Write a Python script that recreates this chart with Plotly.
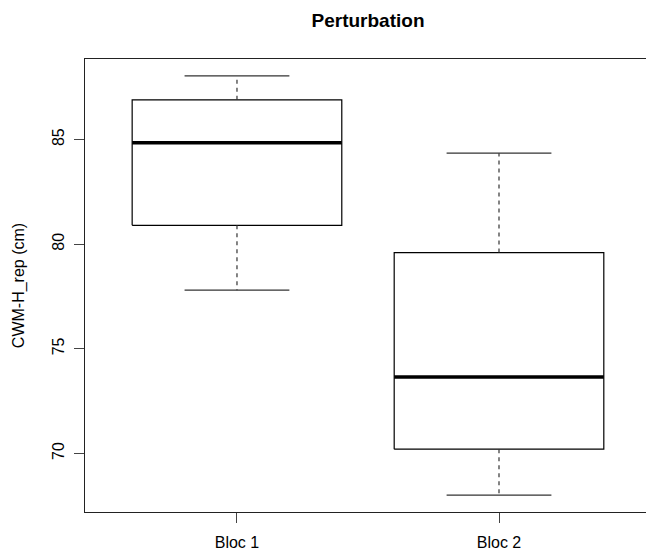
import plotly.graph_objects as go

categories = ["Bloc 1", "Bloc 2"]
lower_whisker = [77.8, 68.0]
q1 = [80.9, 70.2]
median = [84.85, 73.65]
q3 = [86.9, 79.6]
upper_whisker = [88.05, 84.35]

y_ticks = [70, 75, 80, 85]

title_text = "Perturbation"
y_title = "CWM-H_rep (cm)"

FONT = "Liberation Sans, Arial, sans-serif"
BOXWEX = 0.4
CAPW = 0.2

W, H = 646, 555

fig = go.Figure()
for i, cat in enumerate(categories):
    xc = i + 1
    fig.add_trace(go.Scatter(
        x=[xc - BOXWEX, xc + BOXWEX, xc + BOXWEX, xc - BOXWEX, xc - BOXWEX],
        y=[q1[i], q1[i], q3[i], q3[i], q1[i]],
        mode="lines", line=dict(color="black", width=1.2),
        hoverinfo="skip", showlegend=False))
    fig.add_trace(go.Scatter(
        x=[xc - BOXWEX, xc + BOXWEX], y=[median[i], median[i]],
        mode="lines", line=dict(color="black", width=3.5),
        hoverinfo="skip", showlegend=False))
    for a, b in [(q3[i], upper_whisker[i]), (q1[i], lower_whisker[i])]:
        fig.add_trace(go.Scatter(
            x=[xc, xc], y=[a, b], mode="lines",
            line=dict(color="#333333", width=1.2, dash="4px,4px"),
            hoverinfo="skip", showlegend=False))
    for v in [upper_whisker[i], lower_whisker[i]]:
        fig.add_trace(go.Scatter(
            x=[xc - CAPW, xc + CAPW], y=[v, v], mode="lines",
            line=dict(color="#333333", width=1.2),
            hoverinfo="skip", showlegend=False))

ymin = min(lower_whisker)
ymax = max(upper_whisker)
pad = 0.04 * (ymax - ymin)

fig.update_layout(
    width=W, height=H,
    margin=dict(l=85, r=0, t=59, b=43),
    paper_bgcolor="white", plot_bgcolor="white",
    font=dict(family=FONT, size=16, color="black"),
    title=dict(text="<b>" + title_text + "</b>", x=0.5045, xref="paper",
               xanchor="center", y=1 - 20 / H, yref="container",
               yanchor="middle", font=dict(size=19, family=FONT, color="black")),
    xaxis=dict(
        range=[0.42, 2.561], tickvals=[1, 2], ticktext=categories,
        showgrid=False, zeroline=False, showline=True, mirror=True,
        linecolor="#222222", linewidth=1.2, ticks="outside", ticklen=10,
        tickcolor="#444444", tickwidth=1.2, tickfont=dict(size=16),
        ticklabelstandoff=6),
    yaxis=dict(
        range=[ymin - pad, ymax + pad], tickvals=y_ticks,
        showgrid=False, zeroline=False, showline=True, mirror=False,
        linecolor="#222222", linewidth=1.2, ticks="outside", ticklen=10,
        tickcolor="#444444", tickwidth=1.2, tickangle=-90,
        tickfont=dict(size=16), ticklabelstandoff=4,
        title=dict(text=y_title, font=dict(size=16), standoff=20)),
)

fig.write_html(
    "out.html",
    config={"displayModeBar": False},
    post_script="document.body.style.margin='0';document.body.style.overflow='hidden';",
)
